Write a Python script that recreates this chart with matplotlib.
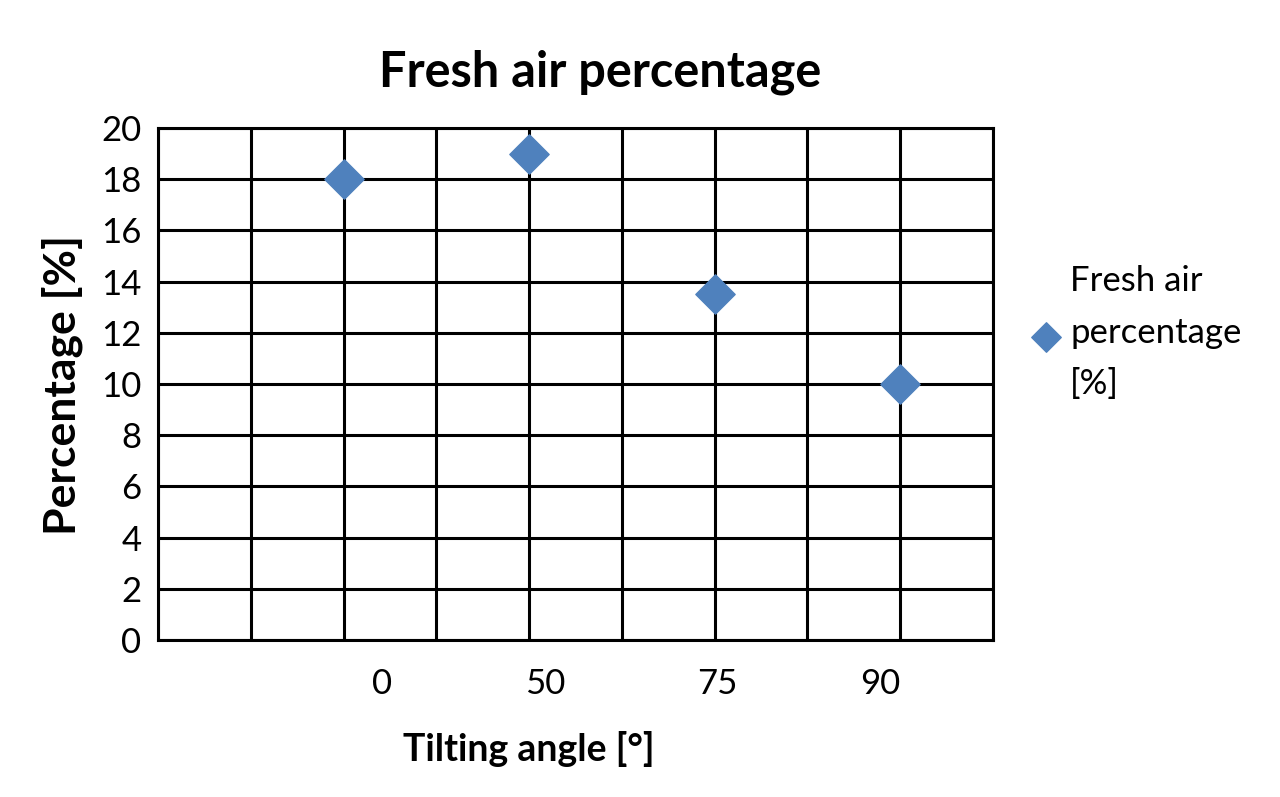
import numpy as np
import matplotlib.pyplot as plt

angles = ["0", "50", "75", "90"]
fresh_air = [18, 19, 13.5, 10]
x_pos = [2, 4, 6, 8]
label_pos = [2.42, 4.17, 6.03, 7.78]
y_ticks = list(range(0, 21, 2))

plt.rcParams['font.family'] = ['Lato', 'DejaVu Sans']

fig = plt.figure(figsize=(12.8, 7.97), dpi=100)
ax = fig.add_axes([0.1234, 0.197, 0.6524, 0.6424])

ax.scatter(x_pos, fresh_air, marker='D', s=20**2, color='#4F81BD',
           zorder=3, label='Fresh air\npercentage\n[%]')

ax.set_xlim(0, 9)
ax.set_ylim(0, 20)

ax.set_xticks(np.arange(0, 10), minor=True)
ax.set_xticks(label_pos)
ax.set_xticklabels(angles)
ax.set_yticks(y_ticks)
ax.tick_params(axis='both', which='both', length=0, labelsize=25)
ax.tick_params(axis='x', pad=20)
ax.tick_params(axis='y', pad=12)

ax.grid(True, which='minor', axis='x', color='black', linewidth=2.2)
ax.grid(True, which='major', axis='y', color='black', linewidth=2.2)
ax.set_axisbelow(True)
for sp in ax.spines.values():
    sp.set_linewidth(2.2)
    sp.set_color('black')

fig.text(0.469, 0.909, 'Fresh air percentage', fontsize=35, fontweight='bold',
         ha='center', va='center')
fig.text(0.413, 0.06, 'Tilting angle [°]', fontsize=27, fontweight='bold',
         ha='center', va='center')
fig.text(0.049, 0.517, 'Percentage [%]', fontsize=32, fontweight='bold',
         ha='center', va='center', rotation=90)

leg = ax.legend(loc='center left', bbox_to_anchor=(1.005, 0.6), frameon=False,
                fontsize=25, markerscale=0.75, handletextpad=0.2, handlelength=1.0)
for t in leg.get_texts():
    t.set_linespacing(1.75)

fig.savefig('out.png', dpi=100)
